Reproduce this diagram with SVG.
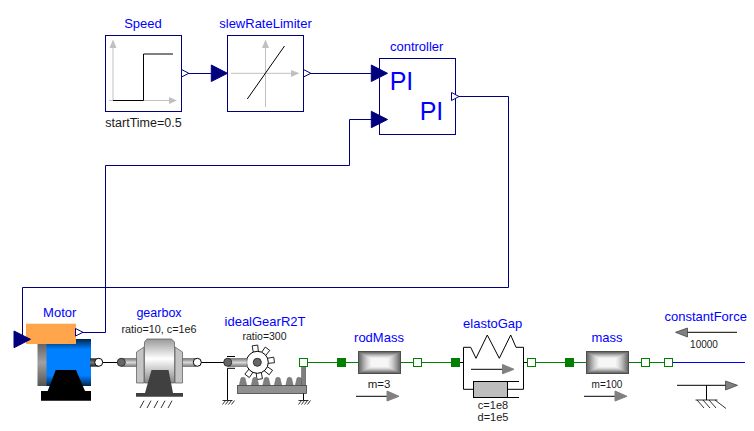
<svg xmlns="http://www.w3.org/2000/svg" xmlns:xlink="http://www.w3.org/1999/xlink" width="754" height="431" viewBox="0 0 754 431">
<style>
text{font-family:"Liberation Sans",Arial,sans-serif}
.n{font-size:13px;fill:#0000ff;text-anchor:middle}
.p{font-size:10.500px;fill:#1a1a1a;text-anchor:middle}
.pi{font-size:25px;fill:#0000ff}
.box{fill:#fff;stroke:#00007f;stroke-width:1}
.sig{fill:none;stroke:#00007f;stroke-width:1}
.tri{fill:#00007f;stroke:#00007f}
.otri{fill:#fff;stroke:#00007f}
.ax{fill:none;stroke:#c0c0c0;stroke-width:1}
.axh{fill:#c0c0c0}
.fl{fill:none;stroke:#007f00;stroke-width:1}
.fo{fill:#fff;stroke:#007f00;stroke-width:1}
.ff{fill:#007f00;stroke:#007f00;stroke-width:1}
.k{fill:none;stroke:#000;stroke-width:1}
.ah{fill:#808080;stroke:#808080}
.h{fill:none;stroke:#000;stroke-width:.8}
</style>
<defs>
<linearGradient id="motorG" x1="0" y1="0" x2="0" y2="1"><stop offset="0" stop-color="#00264d"/><stop offset=".22" stop-color="#007fff"/><stop offset=".78" stop-color="#007fff"/><stop offset="1" stop-color="#00264d"/></linearGradient>
<linearGradient id="grayV" x1="0" y1="0" x2="0" y2="1"><stop offset="0" stop-color="#555"/><stop offset=".5" stop-color="#a0a0a0"/><stop offset="1" stop-color="#555"/></linearGradient>
<linearGradient id="shaftG" x1="0" y1="0" x2="0" y2="1"><stop offset="0" stop-color="#777"/><stop offset=".5" stop-color="#d8d8d8"/><stop offset="1" stop-color="#777"/></linearGradient>
<linearGradient id="shaftD" x1="0" y1="0" x2="0" y2="1"><stop offset="0" stop-color="#222"/><stop offset=".5" stop-color="#777"/><stop offset="1" stop-color="#222"/></linearGradient>
<linearGradient id="boxG" x1="0" y1="0" x2="0" y2="1"><stop offset="0" stop-color="#999"/><stop offset=".45" stop-color="#fff"/><stop offset="1" stop-color="#888"/></linearGradient>
<g id="massBlock">
<rect x="0" y="0" width="43" height="23" fill="#4d4d4d"/>
<rect x="1" y="1" width="41" height="21" fill="#6e6e6e"/>
<rect x="2.500" y="2" width="38" height="19" fill="#8a8a8a"/>
<rect x="4.500" y="3" width="34" height="17" fill="#a6a6a6"/>
<rect x="6.500" y="4" width="30" height="15" fill="#c0c0c0"/>
<rect x="8.500" y="5" width="26" height="13" fill="#d6d6d6"/>
<rect x="10.500" y="6" width="22" height="11" fill="#e8e8e8"/>
<rect x="12.500" y="7" width="18" height="9" fill="#f6f6f6"/>
</g>
<g id="tooth"><path d="M-2.500,-9 L2.500,-9 L2.800,-17 L-2.800,-17 Z" fill="#fff" stroke="#000" stroke-width=".8"/></g>
<path id="rackTooth" d="M-3.800,8 L-2,0.500 Q0,-1 2,0.500 L3.800,8 Z" fill="#808080" stroke="#666" stroke-width=".5"/>
<g id="hatch"><path d="M-5,0H5M-2,0L-5,4M1,0L-2,4M4,0L1,4M7,0L4,4" fill="none" stroke="#000" stroke-width=".8"/></g>
</defs>

<g id="connectors">
<path class="sig" d="M181.500,73.500H213"/>
<path class="sig" d="M303.500,73.500H373"/>
<path class="sig" d="M459,96.500H508.500V287.500H22.500V339.500H16"/>
<path class="sig" d="M83,332.500H105.500V165.500H349.500V119.500H373"/>
<path class="k" d="M98.700,362.500H121.300"/>
<path class="k" d="M197.300,362.500H227.700"/>
<path class="fl" d="M307.700,362.500H358M401,362.500H413.300M421.700,362.500H451"/>
<path class="k" d="M459.700,362.500H463.300M523.300,362.500H527.300"/>
<path class="fl" d="M535.700,362.500H586M629,362.500H641.300M649.700,362.500H664.300"/>
<path fill="none" stroke="#0000ff" stroke-width="1" d="M672.700,362.500H745"/>
</g>

<g id="Speed">
<text class="n" x="143" y="28">Speed</text>
<rect class="box" x="105.500" y="35.500" width="76" height="76"/>
<path class="ax" d="M113,100.500V44M109,100.500H172"/>
<path class="axh" d="M113,39.500L116.500,48H109.500ZM177,100.500L169,97V104Z"/>
<path class="k" d="M113,100.500H143.500V54H173" stroke-width="1.200"/>
<text class="p" x="143.500" y="127" style="font-size:12.500px">startTime=0.5</text>
</g>

<g id="slewRateLimiter">
<text class="n" x="265.500" y="28">slewRateLimiter</text>
<rect class="box" x="227.500" y="35.500" width="76" height="76"/>
<path class="ax" d="M265.500,107V44M231,73.300H295"/>
<path class="axh" d="M265.500,39.500L269,48H262ZM299.500,73.300L291,70V77Z"/>
<path class="k" d="M247.300,99L284.500,46"/>
<path class="tri" d="M211.300,65L227.500,73.300L211.300,81.500Z"/>
<path class="otri" d="M181.500,69.500L188.800,73.300L181.500,77Z"/>
<path class="otri" d="M303.500,69.500L310.800,73.300L303.500,77Z"/>
</g>

<g id="controller">
<text class="n" x="416.700" y="51">controller</text>
<rect class="box" x="379.500" y="58.500" width="76" height="76"/>
<text class="pi" x="389.700" y="90">PI</text>
<text class="pi" x="419.700" y="120">PI</text>
<path class="tri" d="M371.300,65L387.500,73.300L371.300,81.500Z"/>
<path class="tri" d="M371.300,111.300L387.500,119.500L371.300,127.700Z"/>
<path class="otri" d="M451.500,92.500L459,96.500L451.500,100.500Z"/>
</g>

<g id="Motor">
<text class="n" x="59.700" y="317">Motor</text>
<rect x="37.500" y="339" width="9.500" height="47" fill="url(#grayV)"/>
<rect x="46.500" y="339" width="44.500" height="47" fill="url(#motorG)"/>
<rect x="90" y="358.300" width="9" height="8.400" fill="url(#shaftD)"/>
<circle cx="98.700" cy="362.300" r="4" fill="#fff" stroke="#000"/>
<path d="M55.700,370H76L85,391H91V400.700H41V391H47.700Z" fill="#000"/>
<rect x="26" y="323.700" width="50" height="20.300" fill="#ffa64d"/>
<path class="tri" d="M14,331L30.500,339.300L14,347.700Z"/>
<path class="otri" d="M75.500,328.500L83,332.300L75.500,336Z"/>
</g>

<g id="gearbox">
<text class="n" x="159" y="317" style="font-size:12.500px">gearbox</text>
<text class="p" x="159" y="332.700" style="font-size:10.800px">ratio=10, c=1e6</text>
<rect x="121" y="358.300" width="16" height="8.400" fill="url(#shaftG)" stroke="#666" stroke-width=".5"/>
<rect x="182" y="358.300" width="14" height="8.400" fill="url(#shaftG)" stroke="#666" stroke-width=".5"/>
<path d="M136.500,352L144,347V383H136.500ZM182.500,352L175,347V383H182.500Z" fill="#c4c4c4" stroke="#555" stroke-width=".7"/>
<path d="M147,339H171.500L174.500,342V383H144.500V342Z" fill="url(#boxG)" stroke="#555" stroke-width=".7"/>
<path d="M151.500,370H168.500L173,393H183V396.700H136V393H145Z" fill="#404040"/>
<circle cx="121.300" cy="362.300" r="4" fill="#666" stroke="#333"/>
<circle cx="197.300" cy="362.300" r="4" fill="#fff" stroke="#000"/>
<path class="h" d="M144,400.700L140,408M151,400.700L147,408M158,400.700L154,408M165,400.700L161,408M172,400.700L168,408"/>
</g>

<g id="idealGearR2T">
<text class="n" x="265" y="325.700">idealGearR2T</text>
<text class="p" x="264.500" y="340">ratio=300</text>
<g transform="translate(257.300,362.300)">
<use xlink:href="#tooth" transform="rotate(-8)"/>
<use xlink:href="#tooth" transform="rotate(37)"/>
<use xlink:href="#tooth" transform="rotate(82)"/>
<use xlink:href="#tooth" transform="rotate(127)"/>
<use xlink:href="#tooth" transform="rotate(172)"/>
<use xlink:href="#tooth" transform="rotate(217)"/>
<circle r="11" fill="#fff" stroke="#000"/>
<circle r="4" fill="#666" stroke="#333"/>
</g>
<rect x="228" y="358.300" width="19" height="8.400" fill="url(#shaftG)" stroke="#666" stroke-width=".5"/>
<circle cx="227.700" cy="362.300" r="4" fill="#666" stroke="#333"/>
<path class="k" d="M227,356.500H235M235,368.300H227.500V400"/>
<use xlink:href="#hatch" x="227.500" y="400.500"/>
<use xlink:href="#rackTooth" x="243" y="377.500"/>
<use xlink:href="#rackTooth" x="255" y="377.500"/>
<use xlink:href="#rackTooth" x="266.500" y="377.500"/>
<use xlink:href="#rackTooth" x="278" y="377.500"/>
<use xlink:href="#rackTooth" x="289.500" y="377.500"/>
<use xlink:href="#rackTooth" x="299" y="377.500"/>
<rect x="301.700" y="366.700" width="4" height="19" fill="#808080" stroke="#555" stroke-width=".6"/>
<rect x="237.500" y="385.500" width="69" height="8" fill="#909090" stroke="#444" stroke-width=".8"/>
<path class="k" d="M303.500,393.500V400"/>
<use xlink:href="#hatch" x="303.500" y="400.500"/>
<rect class="fo" x="299.500" y="358.500" width="8" height="8"/>
</g>

<g id="rodMass">
<text class="n" x="379" y="341.700">rodMass</text>
<use xlink:href="#massBlock" x="358" y="351"/>
<rect class="ff" x="337.500" y="358.500" width="8" height="8"/>
<rect class="fo" x="413.500" y="358.500" width="8" height="8"/>
<text class="p" x="379" y="387.700" style="font-size:11.500px">m=3</text>
<path class="k" d="M356,396.300H388"/>
<path class="ah" d="M387,391L399,396.300L387,401Z"/>
</g>

<g id="elastoGap">
<text class="n" x="492.700" y="328">elastoGap</text>
<path class="k" d="M463.500,389.300V347.300H470.700L476,358.300L487.300,335L499.300,358.300L510.700,335L516,347.300H523.500V389.300"/>
<path class="k" d="M463.500,389.300H473.500M507.500,381.500H519M507.500,397.500H519M507.500,389.300H523.500"/>
<rect x="473.500" y="381.500" width="34" height="16" fill="#bdbdbd" stroke="#000"/>
<path class="k" d="M471,369.300H503"/>
<path class="ah" d="M502.500,364.500L514,369.300L502.500,373.800Z"/>
<rect class="ff" x="451.500" y="358.500" width="8" height="8"/>
<rect class="fo" x="527.500" y="358.500" width="8" height="8"/>
<text class="p" x="493" y="408.500" style="font-size:11px">c=1e8</text>
<text class="p" x="493" y="421" style="font-size:11px">d=1e5</text>
</g>

<g id="mass">
<text class="n" x="607" y="341.700">mass</text>
<use xlink:href="#massBlock" x="586" y="351"/>
<rect class="ff" x="565.500" y="358.500" width="8" height="8"/>
<rect class="fo" x="641.500" y="358.500" width="8" height="8"/>
<text class="p" x="607" y="387.700" style="font-size:10px">m=100</text>
<path class="k" d="M584,396.300H616"/>
<path class="ah" d="M615,391L627,396.300L615,401Z"/>
</g>

<g id="constantForce">
<text class="n" x="705.700" y="320.700">constantForce</text>
<path class="k" d="M737,332.300H686"/>
<path d="M687.500,328V337L675.500,332.300Z" fill="#808080" stroke="#333" stroke-width=".7"/>
<text class="p" x="704" y="347.700" style="font-size:10px">10000</text>
<rect class="fo" x="664.500" y="358.500" width="8" height="8"/>
<path class="k" d="M677,385.300H726M706.500,385.300V400"/>
<path d="M725.500,381V390L737.500,385.300Z" fill="#808080" stroke="#333" stroke-width=".7"/>
<path class="h" d="M695.500,400H717.500M697,400L704,408M703,400L710,408M709,400L716,408M715,400L726,408.500"/>
</g>
</svg>
